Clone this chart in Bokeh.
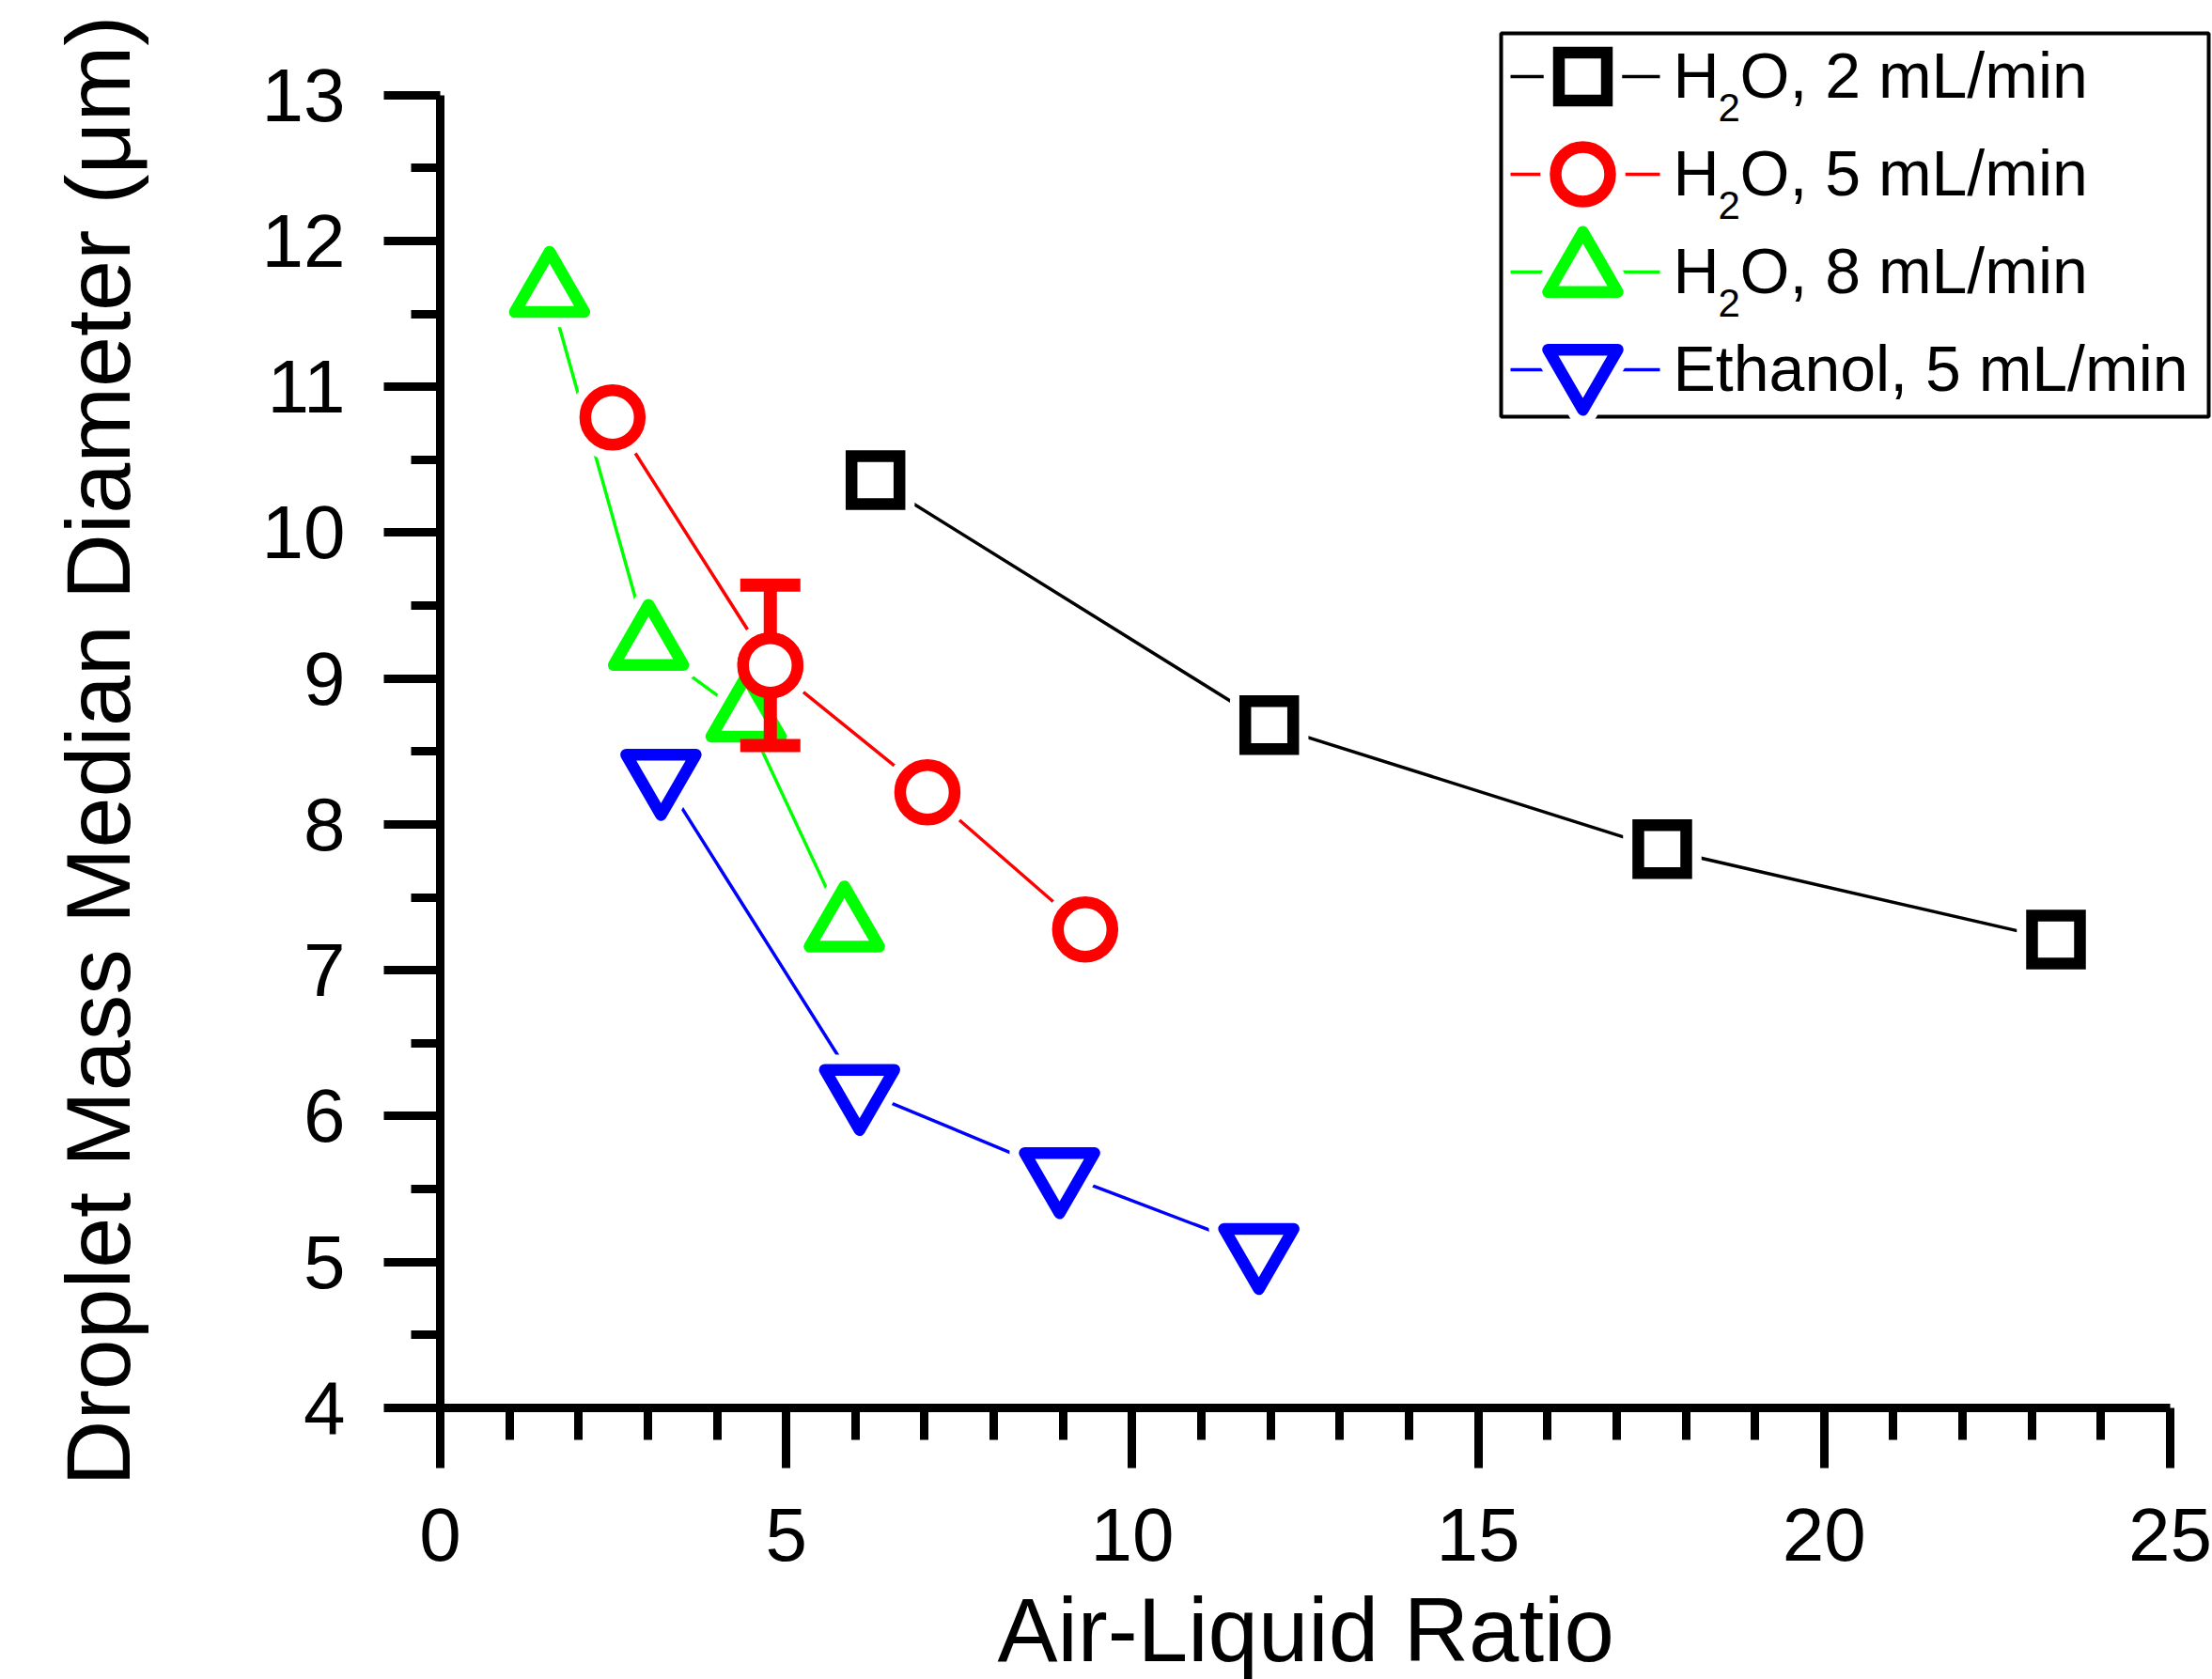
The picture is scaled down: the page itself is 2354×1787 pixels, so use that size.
from bokeh.plotting import figure
from bokeh.models import Range1d, FixedTicker, Title
from bokeh.core.properties import value
from bokeh.embed import file_html
from bokeh.resources import INLINE

# ---------------- data ----------------
x_label = "Air-Liquid Ratio"
y_label = "Droplet Mass Median Diameter (μm)"
series_names = ["H2O, 2 mL/min", "H2O, 5 mL/min", "H2O, 8 mL/min", "Ethanol, 5 mL/min"]

black_x = [6.29, 11.98, 17.66, 23.35]
black_y = [10.36, 8.68, 7.83, 7.21]

red_x = [2.49, 4.77, 7.04, 9.32]
red_y = [10.79, 9.09, 8.22, 7.28]
red_err = [0.0, 0.55, 0.0, 0.0]

green_x = [1.58, 3.01, 4.42, 5.84]
green_y = [11.65, 9.23, 8.74, 7.30]

blue_x = [3.19, 6.06, 8.95, 11.83]
blue_y = [8.34, 6.18, 5.61, 5.09]

x_ticks = [0, 5, 10, 15, 20, 25]
x_minor = [v for v in range(0, 26) if v % 5 != 0]
y_ticks = [4, 5, 6, 7, 8, 9, 10, 11, 12, 13]
y_minor = [v + 0.5 for v in range(4, 13)]

# ---------------- layout constants ----------------
W, H = 2354, 1787
FL = 468                 # frame left  (x = 0)
FBOT = 1498              # frame bottom (y = 4)
FB = H - FBOT
frame_w = W - FL
frame_h = FBOT
px_x = (2309 - FL) / 25.0          # pixels per x unit
px_y = (FBOT - 100.6) / 9.0        # pixels per y unit
x_end = frame_w / px_x
y_end = 4 + frame_h / px_y

FONT = "Liberation Sans"
MLW = 12.5      # marker outline width
GAP = 10        # gap between line and marker
LINE_W = 3.5

styles = [
    dict(x=black_x, y=black_y, color="#000000", marker="square", size=51, join="miter"),
    dict(x=red_x, y=red_y, color="#FF0000", marker="circle", size=58, join="round"),
    dict(x=green_x, y=green_y, color="#00FF00", marker="triangle", size=74, join="round"),
    dict(x=blue_x, y=blue_y, color="#0000FF", marker="inverted_triangle", size=74, join="round"),
]

p = figure(width=W, height=H, x_range=Range1d(0, x_end), y_range=Range1d(4, y_end),
           output_backend="svg", toolbar_location=None,
           min_border_left=FL, min_border_right=0, min_border_top=0, min_border_bottom=FB)
p.extra_x_ranges = {"px": Range1d(0, frame_w)}
p.extra_y_ranges = {"px": Range1d(frame_h, 0)}

p.outline_line_color = None
p.xgrid.visible = False
p.ygrid.visible = False
p.background_fill_color = "white"
p.border_fill_color = "white"

# connecting lines
for s in styles:
    p.line(s["x"], s["y"], line_color=s["color"], line_width=LINE_W)

# markers with white halo (line gap)
for s in styles:
    p.scatter(s["x"], s["y"], marker=s["marker"], size=s["size"], fill_color="white",
              line_color="white", line_width=MLW + 2 * GAP, line_join="round")
    p.scatter(s["x"], s["y"], marker=s["marker"], size=s["size"], fill_color="white",
              line_color=s["color"], line_width=MLW, line_join=s["join"])

# error bar on red series
ex = [x for x, e in zip(red_x, red_err) if e > 0]
ey = [y for y, e in zip(red_y, red_err) if e > 0]
ee = [e for e in red_err if e > 0]
up = [y + e for y, e in zip(ey, ee)]
lo = [y - e for y, e in zip(ey, ee)]
p.segment(ex, lo, ex, up, line_color="#FF0000", line_width=14)
p.scatter(ex + ex, up + lo, marker="dash", size=64, line_color="#FF0000", line_width=14)
p.scatter(ex, ey, marker="circle", size=58, fill_color="white", line_color="#FF0000", line_width=MLW)

# ---------------- axes ----------------
xa = p.xaxis[0]
ya = p.yaxis[0]
xa.ticker = FixedTicker(ticks=x_ticks, minor_ticks=x_minor)
ya.ticker = FixedTicker(ticks=y_ticks, minor_ticks=y_minor)
xa.bounds = (0, 25)
ya.bounds = (4, 13)
for ax in (xa, ya):
    ax.axis_line_width = 9
    ax.axis_line_color = "black"
    ax.major_tick_line_width = 9
    ax.minor_tick_line_width = 9
    ax.major_tick_line_color = "black"
    ax.minor_tick_line_color = "black"
    ax.major_tick_in = 0
    ax.minor_tick_in = 0
    ax.major_label_text_font = FONT
    ax.major_label_text_font_size = "80px"
    ax.major_label_text_color = "black"
xa.major_tick_out = 64
xa.minor_tick_out = 34
ya.major_tick_out = 60
ya.minor_tick_out = 31
xa.major_label_standoff = 43
ya.major_label_standoff = 41

# axis titles as side-panel titles (so they can be placed off-centre);
# blank spacer panels push them outward without moving the frame
x_spacer = Title(text=" ", text_font_size="1px", standoff=24)
x_title = Title(text=x_label, align="left", offset=593, vertical_align="bottom", standoff=-24,
                text_font=FONT, text_font_size="96px", text_font_style="normal", text_color="black")
y_spacer = Title(text=" ", text_font_size="1px", standoff=114)
y_title = Title(text=y_label, align="right", offset=16, vertical_align="bottom", standoff=0,
                text_font=FONT, text_font_size="97px", text_font_style="normal", text_color="black")
p.add_layout(x_spacer, "below")
p.add_layout(x_title, "below")
p.add_layout(y_spacer, "left")
p.add_layout(y_title, "left")

# ---------------- legend (pixel coordinates inside the frame) ----------------
LX0, LX1, LY0, LY1 = 1129, 1882, 35, 443
p.quad(left=[LX0], right=[LX1], top=[LY0], bottom=[LY1], fill_color="white",
       line_color="black", line_width=4, x_range_name="px", y_range_name="px")
row0, row_step = 81, 104
seg_x0, seg_x1, mark_x = 1139, 1298, 1216
text_x = 1312
for i, (s, name) in enumerate(zip(styles, series_names)):
    ry = row0 + i * row_step
    p.segment([seg_x0], [ry], [seg_x1], [ry], line_color=s["color"], line_width=LINE_W,
              x_range_name="px", y_range_name="px")
    p.scatter([mark_x], [ry], marker=s["marker"], size=s["size"], fill_color="white",
              line_color="white", line_width=MLW + 2 * GAP, line_join="round",
              x_range_name="px", y_range_name="px")
    p.scatter([mark_x], [ry], marker=s["marker"], size=s["size"], fill_color="white",
              line_color=s["color"], line_width=MLW, line_join=s["join"],
              x_range_name="px", y_range_name="px")
    mid = ry - 2
    if name.startswith("H2O"):
        parts = [(name[0], text_x, mid, "68px"),
                 (name[1], text_x + 48, mid + 35, "42px"),
                 (name[2:], text_x + 71, mid, "68px")]
    else:
        parts = [(name, text_x, mid, "68px")]
    for t, tx, ty, fs in parts:
        p.text([tx], [ty], text=[t], text_font=value(FONT), text_font_size=value(fs),
               text_color="black", text_baseline="middle", text_align="left",
               x_range_name="px", y_range_name="px")

open("out.html", "w").write(file_html(p, INLINE))
